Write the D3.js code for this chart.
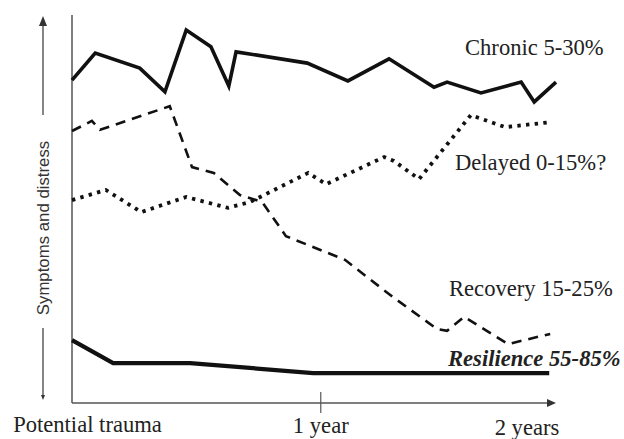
<!DOCTYPE html>
<html>
<head>
<meta charset="utf-8">
<script src="https://cdn.jsdelivr.net/npm/d3@7"></script>
<style>
  html, body { margin: 0; padding: 0; background: #fff; }
  svg { display: block; }
</style>
</head>
<body>
<svg id="chart" width="624" height="439"></svg>
<script>
// Relative time (0 = potential trauma, 100 = end of axis) and symptom level (0-100)
const chronicX   = [0, 4.8, 14.0, 19.2, 23.6, 28.7, 32.4, 33.9, 48.6, 57.0, 65.5, 74.8, 77.5, 84.5, 92.8, 95.5, 100];
const chronicY   = [83.2, 90.2, 86.3, 80.2, 96.1, 91.8, 81.7, 90.5, 87.6, 83.0, 88.7, 81.4, 82.7, 79.9, 82.7, 77.6, 82.7];

const recoveryX  = [0, 4.1, 5.8, 20.2, 24.8, 29.3, 34.7, 39.3, 44.2, 56.4, 66.3, 75.4, 77.5, 81.0, 90.1, 98.8];
const recoveryY  = [70.1, 72.7, 70.4, 76.5, 60.8, 59.3, 53.6, 51.8, 43.0, 36.9, 27.3, 19.1, 18.6, 22.2, 15.2, 17.8];

const delayedX   = [0, 7.0, 14.3, 23.6, 32.2, 36.8, 48.8, 52.5, 64.5, 66.5, 71.7, 82.4, 89.5, 99.0];
const delayedY   = [52.3, 54.9, 49.2, 53.1, 50.3, 51.8, 59.3, 56.4, 63.4, 62.4, 57.7, 74.2, 71.1, 72.4];

const resilienceX = [0, 8.5, 24.4, 49.8, 98.6];
const resilienceY = [16.2, 10.3, 10.3, 7.7, 7.7];

const seriesNames  = ["Chronic 5-30%", "Delayed 0-15%?", "Recovery 15-25%", "Resilience 55-85%"];
const axisLabels   = ["Potential trauma", "1 year", "2 years"];
const axisLabelPos = [3.2, 51.4, 94];
const yearTick     = 51.4;
const yTitle       = "Symptoms and distress";

const svg = d3.select("#chart");
const x = d3.scaleLinear().domain([0, 100]).range([72, 556]);
const y = d3.scaleLinear().domain([0, 100]).range([403, 15]);

const line = d3.line().x(d => x(d[0])).y(d => y(d[1]));
const pairs = (xs, ys) => xs.map((v, i) => [v, ys[i]]);

// Axes: plain vertical line and horizontal arrow
const axisColor = "#555";
svg.append("line")
  .attr("x1", x(0)).attr("x2", x(0))
  .attr("y1", y(100)).attr("y2", y(0))
  .attr("stroke", axisColor).attr("stroke-width", 1.5);
svg.append("line")
  .attr("x1", x(0)).attr("x2", x(100) - 6)
  .attr("y1", y(0)).attr("y2", y(0))
  .attr("stroke", axisColor).attr("stroke-width", 1.3);
svg.append("path")
  .attr("d", `M${x(100)},${y(0)} L${x(100) - 9},${y(0) - 4} L${x(100) - 9},${y(0) + 4} Z`)
  .attr("fill", "#333");
svg.append("line")
  .attr("x1", x(yearTick)).attr("x2", x(yearTick))
  .attr("y1", y(0) - 11).attr("y2", y(0) + 10)
  .attr("stroke", axisColor).attr("stroke-width", 1.2);

// Time labels
svg.selectAll("text.xlab")
  .data(axisLabels)
  .join("text")
  .attr("class", "xlab")
  .attr("x", (d, i) => x(axisLabelPos[i]))
  .attr("y", (d, i) => [432, 433, 435][i])
  .attr("text-anchor", "middle")
  .attr("font-family", "'Liberation Serif', 'Times New Roman', serif")
  .attr("font-size", 22.6)
  .attr("fill", "#222")
  .text(d => d);

// Vertical symptom-level indicator with arrow
const arrowX = 43;
svg.append("line")
  .attr("x1", arrowX).attr("x2", arrowX).attr("y1", 24).attr("y2", 115)
  .attr("stroke", "#444").attr("stroke-width", 1.3);
svg.append("path")
  .attr("d", `M${arrowX},16 L${arrowX - 4},26 L${arrowX + 4},26 Z`)
  .attr("fill", "#333");
svg.append("line")
  .attr("x1", arrowX).attr("x2", arrowX).attr("y1", 328).attr("y2", 396)
  .attr("stroke", "#444").attr("stroke-width", 1.3);
svg.append("path")
  .attr("d", `M${arrowX},400 L${arrowX - 2},395 L${arrowX + 2},395 Z`)
  .attr("fill", "#333");
svg.append("text")
  .attr("transform", `translate(${arrowX + 6},228) rotate(-90)`)
  .attr("text-anchor", "middle")
  .attr("font-family", "'Liberation Sans', Arial, sans-serif")
  .attr("font-size", 16.8)
  .attr("fill", "#333")
  .text(yTitle);

// Trajectories
const lines = [
  { pts: pairs(chronicX, chronicY),       w: 3.6, dash: null },
  { pts: pairs(delayedX, delayedY),       w: 3.8, dash: "3.4,5.3" },
  { pts: pairs(recoveryX, recoveryY),     w: 2.6, dash: "10,7" },
  { pts: pairs(resilienceX, resilienceY), w: 4.2, dash: null }
];
svg.selectAll("path.traj")
  .data(lines)
  .join("path")
  .attr("class", "traj")
  .attr("d", d => line(d.pts))
  .attr("fill", "none")
  .attr("stroke", "#111")
  .attr("stroke-width", d => d.w)
  .attr("stroke-linejoin", "miter")
  .attr("stroke-dasharray", d => d.dash);

// Trajectory labels
const labelPos = [[465, 55], [455, 170], [449, 296], [448, 366]];
svg.selectAll("text.series")
  .data(seriesNames)
  .join("text")
  .attr("class", "series")
  .attr("x", (d, i) => labelPos[i][0])
  .attr("y", (d, i) => labelPos[i][1])
  .attr("font-family", "'Liberation Serif', 'Times New Roman', serif")
  .attr("font-size", 22.6)
  .attr("font-weight", (d, i) => i === 3 ? "bold" : "normal")
  .attr("font-style", (d, i) => i === 3 ? "italic" : "normal")
  .attr("fill", "#222")
  .text(d => d);
</script>
</body>
</html>
